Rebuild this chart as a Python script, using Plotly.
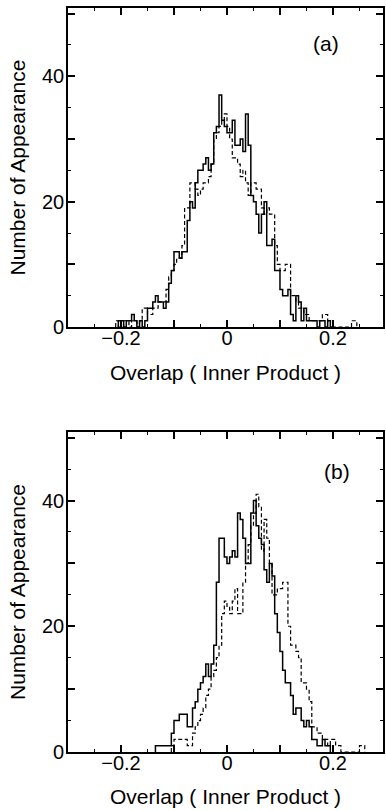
import plotly.graph_objects as go

# ---------------- data ----------------
BIN_WIDTH = 0.005

X_TICKS = [-0.3, -0.2, -0.1, 0.0, 0.1, 0.2]
X_TICK_LABELS = ["", "−0.2", "", "0", "", "0.2"]
Y_TICKS = [0, 10, 20, 30, 40, 50]
Y_TICK_LABELS = ["0", "", "20", "", "40", ""]

# panel (a)
A_SOLID_START = -0.205
A_SOLID = [1, 1, 0, 1, 1, 2, 1, 0, 1, 0, 1,
           3, 3, 4, 5, 4, 4, 3, 4, 7, 9,
           12, 12, 11, 12, 12, 17, 20, 19, 23, 25,
           25, 26, 27, 25, 26, 31, 32, 37, 33, 32,
           31, 31, 33, 29, 29, 30, 28, 34, 29, 21,
           20, 18, 15, 18, 20, 13, 13, 14, 9, 9,
           6, 5, 5, 6, 2, 1, 5, 4, 1, 3,
           1, 1, 1, 1, 0, 1, 1, 0, 1, 0]

A_DASHED_START = -0.210
A_DASHED = [1, 0, 0, 1, 1, 0, 1, 1, 0, 1,
            3, 3, 2, 2, 3, 3, 4, 4, 4, 6,
            8, 9, 10, 11, 11, 13, 19, 19, 23, 23,
            22, 21, 22, 23, 23, 24, 26, 30, 31, 32,
            33, 34, 32, 30, 27, 27, 26, 24, 25, 23,
            21, 23, 23, 22, 22, 19, 18, 19, 18, 18,
            13, 10, 9, 9, 10, 10, 5, 5, 4, 3,
            3, 2, 2, 1, 1, 1, 1, 1, 2, 2,
            1, 1, 0, 0, 0, 0, 0, 0, 0, 1, 1]

# panel (b)
B_SOLID_START = -0.135
B_SOLID = [1, 1, 1, 1, 1, 1, 3, 5, 5, 6,
           6, 6, 4, 4, 7, 8, 10, 11, 12, 14,
           12, 14, 17, 27, 34, 34, 31, 30, 31, 32,
           31, 38, 37, 34, 30, 30, 38, 40, 36, 34,
           33, 29, 27, 30, 28, 22, 19, 16, 13, 11,
           11, 9, 6, 7, 7, 5, 4, 5, 4, 2,
           2, 1, 1, 2, 1, 1]

B_DASHED_START = -0.105
B_DASHED = [1, 2, 2, 2, 2, 2, 1, 1, 3, 4,
            5, 6, 7, 9, 10, 12, 13, 15, 17, 22,
            24, 23, 22, 24, 26, 22, 22, 27, 30, 33,
            36, 38, 41, 39, 32, 37, 34, 30, 25, 25,
            26, 26, 27, 27, 20, 17, 17, 16, 15, 11,
            11, 10, 8, 4, 4, 3, 3, 2, 2, 1,
            2, 2, 1, 1, 0, 0, 0, 0, 0, 0,
            0, 1, 1]


def step_xy(start, counts):
    edges = [round(start + i * BIN_WIDTH, 4) for i in range(len(counts) + 1)]
    xs = [edges[0]] + edges
    ys = [0] + list(counts) + [0]
    return xs, ys


fig = go.Figure()

solid_line = dict(color="black", width=1.5, shape="hv")
dash_line = dict(color="black", width=1.2, shape="hv", dash="4px,2.5px")

xs, ys = step_xy(A_DASHED_START, A_DASHED)
fig.add_trace(go.Scatter(x=xs, y=ys, mode="lines", line=dash_line, xaxis="x", yaxis="y", showlegend=False))
xs, ys = step_xy(A_SOLID_START, A_SOLID)
fig.add_trace(go.Scatter(x=xs, y=ys, mode="lines", line=solid_line, xaxis="x", yaxis="y", showlegend=False))
xs, ys = step_xy(B_DASHED_START, B_DASHED)
fig.add_trace(go.Scatter(x=xs, y=ys, mode="lines", line=dash_line, xaxis="x2", yaxis="y2", showlegend=False))
xs, ys = step_xy(B_SOLID_START, B_SOLID)
fig.add_trace(go.Scatter(x=xs, y=ys, mode="lines", line=solid_line, xaxis="x2", yaxis="y2", showlegend=False))

FONT = "Liberation Sans, Arial, Helvetica, sans-serif"
tick_font = dict(family=FONT, size=20, color="black")
title_font = dict(family=FONT, size=21, color="black")


def xaxis_cfg(anchor):
    return dict(
        anchor=anchor, domain=[0, 1], range=[-0.3, 0.2944],
        tickmode="array", tickvals=X_TICKS, ticktext=X_TICK_LABELS,
        ticks="inside", ticklen=7, tickwidth=1.5, tickcolor="black",
        showline=True, linewidth=1.6, linecolor="black", mirror="ticks",
        minor=dict(tick0=0, dtick=0.05, ticks="inside", ticklen=3.5, tickwidth=1.2, tickcolor="black"),
        showgrid=False, zeroline=False, tickfont=tick_font, ticklabelstandoff=-8,
        title=dict(text="Overlap ( Inner Product )", font=title_font, standoff=17),
    )


def yaxis_cfg(anchor, domain):
    return dict(
        anchor=anchor, domain=domain, range=[0, 50.9],
        tickmode="array", tickvals=Y_TICKS, ticktext=Y_TICK_LABELS,
        ticks="inside", ticklen=7, tickwidth=1.5, tickcolor="black",
        showline=True, linewidth=1.6, linecolor="black", mirror="ticks",
        minor=dict(tick0=0, dtick=5, ticks="inside", ticklen=3.5, tickwidth=1.2, tickcolor="black"),
        showgrid=False, zeroline=False, tickfont=tick_font, ticklabelstandoff=-2,
        title=dict(text="Number of Appearance", font=title_font, standoff=11),
    )


fig.update_layout(
    width=386, height=811,
    margin=dict(l=68, r=1, t=8, b=59),
    paper_bgcolor="white", plot_bgcolor="white",
    xaxis=xaxis_cfg("y"),
    yaxis=yaxis_cfg("x", [0.5712, 1.0]),
    xaxis2=xaxis_cfg("y2"),
    yaxis2=yaxis_cfg("x2", [0.0, 0.4301]),
    annotations=[
        dict(text="(a)", x=0.187, y=45.3, xref="x", yref="y", showarrow=False,
             font=dict(family=FONT, size=21, color="black")),
        dict(text="(b)", x=0.2076, y=44.6, xref="x2", yref="y2", showarrow=False,
             font=dict(family=FONT, size=21, color="black")),
    ],
)

fig.write_html("out.html")
